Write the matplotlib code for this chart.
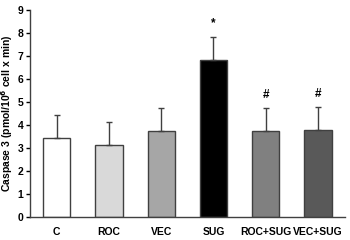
import matplotlib.pyplot as plt
import numpy as np

groups = ['C', 'ROC', 'VEC', 'SUG', 'ROC+SUG', 'VEC+SUG']
means = [3.43, 3.13, 3.76, 6.85, 3.74, 3.80]
errs = [1.0, 1.0, 0.98, 1.0, 1.0, 0.98]
marks = ['', '', '', '*', '#', '#']
colors = ['#ffffff', '#d9d9d9', '#a6a6a6', '#000000', '#808080', '#595959']

plt.rcParams['font.family'] = ['Liberation Sans', 'DejaVu Sans']
plt.rcParams['font.weight'] = 'bold'

fig = plt.figure(figsize=(3.5, 2.4), dpi=100)
ax = fig.add_axes([0.086, 0.096, 0.9, 0.862])

x = np.arange(len(groups))
ax.bar(x, means, width=0.52, color=colors, edgecolor='#404040', linewidth=1.0, zorder=2)
ax.errorbar(x, means, yerr=[np.zeros(len(errs)), errs], fmt='none', ecolor='#404040',
            elinewidth=1.0, capsize=2, capthick=1.0, zorder=3)
for xi, m, e, s in zip(x, means, errs, marks):
    if s:
        ax.text(xi, m + e + 0.3, s, ha='center', va='bottom', fontsize=8.5, fontweight='bold')

ax.set_xlim(-0.51, 5.52)
ax.set_ylim(0, 9)
ax.set_yticks(range(10))
ax.set_xticks(x)
ax.set_xticklabels(groups)
ax.tick_params(axis='x', length=0, pad=7, labelsize=7.5)
ax.tick_params(axis='y', length=3, width=1, labelsize=7.5, pad=2)
ax.spines['top'].set_visible(False)
ax.spines['right'].set_visible(False)
for s in ['left', 'bottom']:
    ax.spines[s].set_color('#404040')
    ax.spines[s].set_linewidth(1.0)
ax.set_ylabel('Caspase 3 (pmol/10$^6$ cell x min)', fontsize=7.5, fontweight='bold', labelpad=2)

fig.savefig('out.png', dpi=100)
